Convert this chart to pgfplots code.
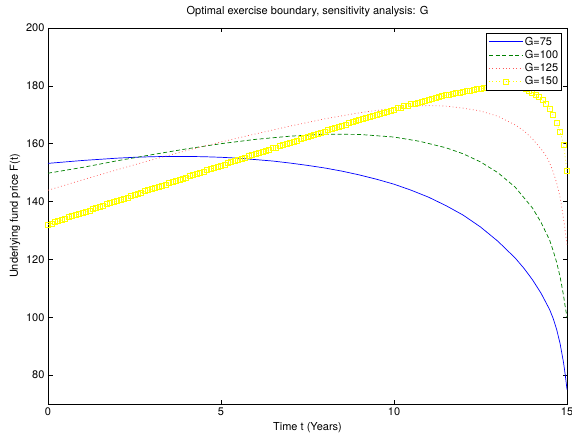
\documentclass[border=0pt]{standalone}
\usepackage{fontspec}
\setmainfont{TeX Gyre Heros}
\usepackage{pgfplots}
\pgfplotsset{compat=1.18}
\definecolor{mblue}{rgb}{0,0,1}
\definecolor{mgreen}{rgb}{0,0.5,0}
\definecolor{mred}{rgb}{1,0.35,0.35}
\definecolor{myellow}{rgb}{1,1,0}
\begin{document}
\begin{tikzpicture}
\path[use as bounding box] (-48pt,-33pt) rectangle (524pt,404pt);
\begin{axis}[
  scale only axis,
  width=519pt, height=376pt,
  xmin=0, xmax=15, ymin=70, ymax=200,
  xtick={0,5,10,15}, ytick={80,100,...,200},
  tick align=inside, tick pos=both,
  major tick length=4.5pt,
  axis line style={line width=0.8pt},
  every tick/.style={black, line width=0.6pt},
  /pgf/number format/assume math mode=true,
  tick label style={font=\fontsize{11}{13}\selectfont},
  clip=false,
  title={Optimal exercise boundary, sensitivity analysis: G},
  title style={at={(0.5,1)}, anchor=base, yshift=7.6pt, font=\fontsize{11}{13}\selectfont},
  xlabel={Time t (Years)},
  xlabel style={at={(0.5,0)}, anchor=base, yshift=-26pt, font=\fontsize{11}{13}\selectfont},
  ylabel={Underlying fund price F(t)},
  ylabel style={at={(0,0.5)}, anchor=base, yshift=30pt, font=\fontsize{11}{13}\selectfont},
  legend cell align=left,
  legend style={at={(0.9904,0.9867)}, anchor=north east, draw=black, line width=0.6pt,
    font=\fontsize{11}{12}\selectfont, inner xsep=2pt, inner ysep=2pt, row sep=0.6pt,
    nodes={inner sep=1.5pt}},
  legend image code/.code={\draw[mark repeat=2,mark phase=2,#1] plot coordinates {(0pt,0pt) (17pt,0pt) (34pt,0pt)};},
]
\addplot[mblue, line width=0.7pt] table {
0 153.2
0.5 153.7
1 154.2
1.5 154.6
2 155.0
2.5 155.3
3 155.5
3.5 155.6
4 155.6
4.5 155.5
5 155.3
5.5 155.0
6 154.5
6.5 154.0
7 153.3
7.5 152.5
8 151.6
8.5 150.5
9 149.2
9.5 147.7
10 146.0
10.5 143.9
11 141.5
11.5 138.6
12 135.3
12.5 131.2
13 126.3
13.5 120.5
13.75 117.0
14 113.0
14.25 108.3
14.5 102.6
14.6 99.6
14.7 95.8
14.8 90.9
14.9 84.3
14.95 80.0
15 75.0
};
\addlegendentry{G=75}
\addplot[mgreen, line width=0.7pt, dash pattern=on 4pt off 2.5pt] table {
0 149.8
1 151.8
2 154.1
3 156.2
4 158.2
5 160.0
6 161.5
7 162.6
8 163.3
9 163.2
10 162.3
10.75 160.8
11.5 158.6
12 156.5
12.5 153.7
13 150.0
13.5 145.0
14 137.8
14.25 132.8
14.5 126.6
14.6 123.0
14.7 119.0
14.8 114.0
14.9 107.5
14.95 103.5
15 100.0
};
\addlegendentry{G=100}
\addplot[mred, line width=0.7pt, dash pattern=on 0.8pt off 2.6pt] table {
0 143.9
1 147.5
2 151.0
3 154.4
4 157.6
5 160.6
6 163.4
7 166.1
8 168.6
9 170.7
10 172.3
10.5 172.9
11 173.2
11.5 173.0
12 172.3
12.5 171.3
13 169.5
13.5 166.5
13.75 164.5
14 161.7
14.25 158.2
14.4 155.7
14.5 153.3
14.6 150.3
14.7 146.5
14.8 141.5
14.85 138.0
14.9 134.0
14.95 129.5
15 125.0
};
\addlegendentry{G=125}
\addplot[myellow, line width=0.7pt, dash pattern=on 0.8pt off 2.6pt, mark=square, mark size=2.5pt, mark options={solid, line width=0.9pt}] table {
0.0 132.0
0.1 132.4
0.2 132.8
0.3 133.2
0.4 133.6
0.5 134.1
0.6 134.5
0.7 134.9
0.8 135.3
0.9 135.7
1.0 136.1
1.1 136.5
1.2 136.9
1.3 137.3
1.4 137.7
1.5 138.2
1.6 138.6
1.7 139.0
1.8 139.4
1.9 139.8
2.0 140.2
2.1 140.6
2.2 141.0
2.3 141.4
2.4 141.8
2.5 142.3
2.6 142.7
2.7 143.1
2.8 143.5
2.9 143.9
3.0 144.3
3.1 144.7
3.2 145.1
3.3 145.5
3.4 145.9
3.5 146.3
3.6 146.7
3.7 147.1
3.8 147.5
3.9 147.9
4.0 148.3
4.1 148.7
4.2 149.1
4.3 149.5
4.4 149.9
4.5 150.4
4.6 150.8
4.7 151.2
4.8 151.6
4.9 152.0
5.0 152.4
5.1 152.8
5.2 153.2
5.3 153.6
5.4 154.0
5.5 154.4
5.6 154.8
5.7 155.2
5.8 155.6
5.9 156.0
6.0 156.4
6.1 156.8
6.2 157.2
6.3 157.6
6.4 158.0
6.5 158.4
6.6 158.7
6.7 159.1
6.8 159.5
6.9 159.9
7.0 160.3
7.1 160.7
7.2 161.1
7.3 161.5
7.4 161.9
7.5 162.3
7.6 162.7
7.7 163.0
7.8 163.4
7.9 163.8
8.0 164.2
8.1 164.6
8.2 165.0
8.3 165.4
8.4 165.8
8.5 166.2
8.6 166.6
8.7 167.0
8.8 167.4
8.9 167.7
9.0 168.1
9.1 168.5
9.2 168.9
9.3 169.3
9.4 169.6
9.5 170.0
9.6 170.4
9.7 170.7
9.8 171.1
9.9 171.4
10.0 171.8
10.1 172.2
10.2 172.5
10.3 172.9
10.4 173.2
10.5 173.6
10.6 173.9
10.7 174.2
10.8 174.6
10.9 174.9
11.0 175.2
11.1 175.5
11.2 175.8
11.3 176.1
11.4 176.4
11.5 176.7
11.6 177.0
11.7 177.2
11.8 177.5
11.9 177.7
12.0 178.0
12.1 178.2
12.2 178.4
12.3 178.6
12.4 178.8
12.5 179.0
12.6 179.2
12.7 179.3
12.8 179.5
12.9 179.6
13.0 179.7
13.1 179.8
13.2 179.8
13.3 179.8
13.4 179.8
13.5 179.7
13.6 179.5
13.7 179.2
13.8 178.8
13.9 178.3
14.0 177.7
14.1 177.0
14.2 176.1
14.3 175.0
14.4 173.7
14.5 171.9
14.6 169.8
14.7 167.3
14.8 164.2
14.9 159.7
15.0 150.5
};
\addlegendentry{G=150}
\end{axis}
\end{tikzpicture}
\end{document}
